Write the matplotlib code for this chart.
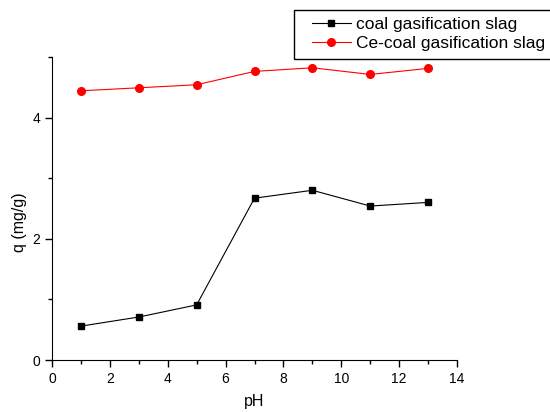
import matplotlib
matplotlib.use('Agg')
import matplotlib.pyplot as plt
from matplotlib.patches import Rectangle

plt.rcParams['font.family'] = ['Liberation Sans', 'DejaVu Sans']

ph = [1, 3, 5, 7, 9, 11, 13]
q_slag = [0.56, 0.71, 0.91, 2.67, 2.80, 2.54, 2.60]
q_ce_slag = [4.44, 4.49, 4.54, 4.76, 4.82, 4.71, 4.81]

fig = plt.figure(figsize=(5.5, 4.12), dpi=100)
ax = fig.add_axes([0.0945, 0.126, 0.7365, 0.736])

ax.plot(ph, q_slag, 's-', color='black', lw=0.8, ms=5, label='coal gasification slag')
ax.plot(ph, q_ce_slag, 'o-', color='red', lw=0.8, ms=5.5, label='Ce-coal gasification slag')

ax.set_xlim(0, 14)
ax.set_ylim(0, 5)
ax.set_xticks(range(0, 15, 2))
ax.set_xticks(range(1, 14, 2), minor=True)
ax.set_yticks([0, 2, 4])
ax.set_yticks([1, 3, 5], minor=True)
ax.tick_params(which='major', length=5, width=1, labelsize=10, direction='out')
ax.tick_params(which='minor', length=3, width=1, direction='out')
ax.spines['top'].set_visible(False)
ax.spines['right'].set_visible(False)

ax.set_xlabel('pH', fontsize=11.5, labelpad=6)
ax.set_ylabel('q (mg/g)', fontsize=11.5)
ax.yaxis.set_label_coords(-0.062, 0.455)

# legend without its own frame, box drawn separately (runs off the right edge)
leg = ax.legend(loc='upper left', bbox_to_anchor=(0.567, 0.958),
                bbox_transform=fig.transFigure, fontsize=12.5,
                frameon=False, borderpad=0, borderaxespad=0,
                handlelength=2.25, handletextpad=0.3, labelspacing=0.2)
fig.patches.append(Rectangle((294 / 550, 1 - 59 / 412), 0.6, 49 / 412,
                             transform=fig.transFigure, fill=False,
                             edgecolor='black', lw=1))

fig.savefig('out.png', dpi=100)
